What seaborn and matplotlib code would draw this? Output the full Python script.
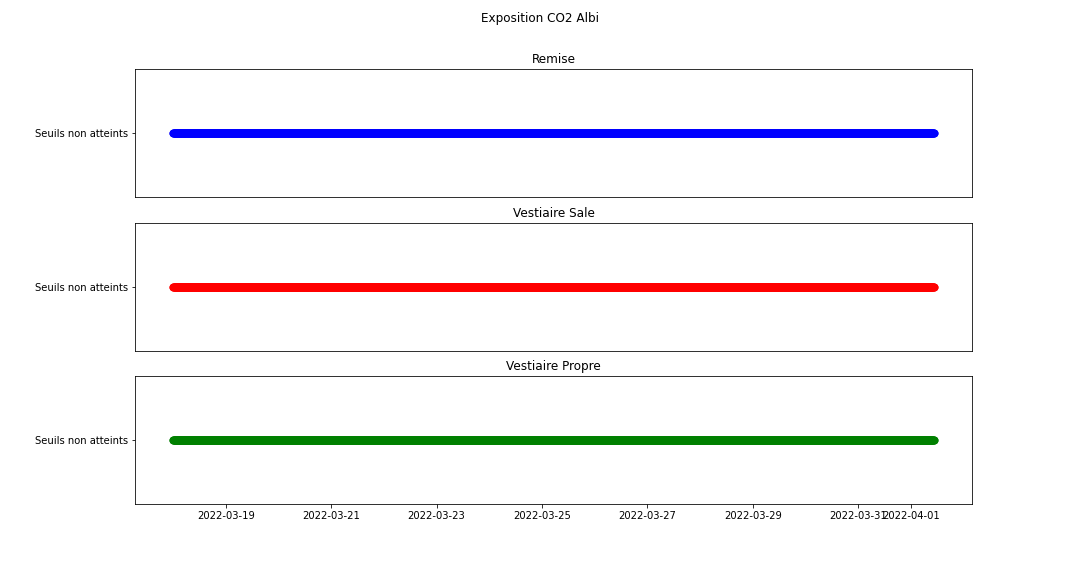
import matplotlib
matplotlib.use("Agg")
import matplotlib.pyplot as plt
import seaborn as sns
import pandas as pd

# data: one status reading per sample time, same for all three rooms
start = "2022-03-18 00:00"
end = "2022-04-01 10:30"
freq = "10min"
rooms = ["Remise", "Vestiaire Sale", "Vestiaire Propre"]
colors = ["blue", "red", "green"]
status = ["Seuils non atteints", "Seuils non atteints", "Seuils non atteints"]

times = pd.date_range(start, end, freq=freq)

fig, axes = plt.subplots(3, 1, figsize=(15, 8), dpi=72, sharex=True)
fig.subplots_adjust(bottom=0.125)
fig.suptitle("Exposition CO2 Albi", fontsize=12)

for ax, room, col, st in zip(axes, rooms, colors, status):
    df = pd.DataFrame({"date": times, "etat": [st] * len(times)})
    sns.scatterplot(data=df, x="date", y="etat", color=col, s=64,
                    linewidth=0, ax=ax)
    ax.set_title(room, fontsize=12)
    ax.set_xlabel("")
    ax.set_ylabel("")

for ax in axes[:-1]:
    ax.tick_params(axis="x", bottom=False, labelbottom=False)

axes[-1].xaxis.set_major_formatter(matplotlib.dates.DateFormatter("%Y-%m-%d"))

fig.savefig("out.png", dpi=72)
